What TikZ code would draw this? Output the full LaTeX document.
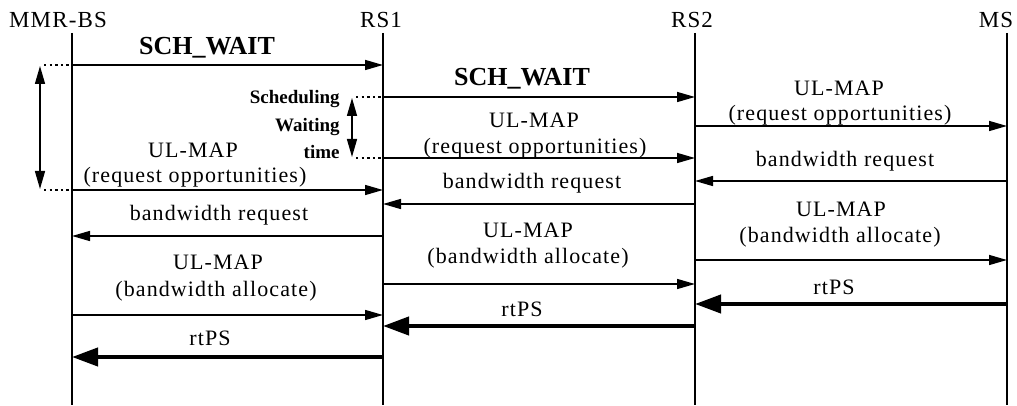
\documentclass[tikz,border=0pt]{standalone}
\usepackage{fontspec}
\setmainfont{Liberation Serif}
\newfontfamily\spacedfont[LetterSpace=5]{Liberation Serif}
\usetikzlibrary{arrows.meta}
\begin{document}
\begin{tikzpicture}[x=0.5pt,y=-0.5pt,
  life/.style={line width=0.75pt},
  msg/.style={line width=0.75pt,-{Triangle[length=9pt,width=5pt]}},
  bigmsg/.style={line width=2pt,-{Triangle[length=13pt,width=9pt]}},
  span/.style={line width=0.75pt,{Triangle[length=9pt,width=5pt]}-{Triangle[length=9pt,width=5pt]}},
  dots/.style={line width=0.75pt,dash pattern=on 1.2pt off 1.6pt},
  head/.style={font=\spacedfont\fontsize{11.5}{13}\selectfont,inner sep=0pt},
  lbl/.style={font=\spacedfont\fontsize{11}{13}\selectfont,inner sep=0pt},
  blbl/.style={font=\bfseries\fontsize{13}{15}\selectfont,inner sep=0pt},
  slbl/.style={font=\bfseries\fontsize{9.5}{11}\selectfont,inner sep=0pt,anchor=east}]
\useasboundingbox (0,0) rectangle (1017,406);
% headers
\node[head] (hbs) at (58,20) {MMR-BS};
\node[head] (hrs1) at (381,20) {RS1};
\node[head] (hrs2) at (692,20) {RS2};
\node[head] (hms) at (996,20) {MS};
% lifelines
\coordinate (bsT) at (72,33);   \coordinate (bsB) at (72,405);
\coordinate (r1T) at (383,33);  \coordinate (r1B) at (383,405);
\coordinate (r2T) at (695,33);  \coordinate (r2B) at (695,405);
\coordinate (msT) at (1007,33); \coordinate (msB) at (1007,405);
\draw[life] (bsT) -- (bsB);
\draw[life] (r1T) -- (r1B);
\draw[life] (r2T) -- (r2B);
\draw[life] (msT) -- (msB);
% message 1: SCH_WAIT BS->RS1
\coordinate (m1a) at (72,65); \coordinate (m1b) at (383,65);
\draw[msg] (m1a) -- (m1b);
\node[blbl] (t1) at (207,48) {SCH\_WAIT};
% message 2: SCH_WAIT RS1->RS2
\coordinate (m2a) at (383,97); \coordinate (m2b) at (695,97);
\draw[msg] (m2a) -- (m2b);
\node[blbl] (t2) at (522,79) {SCH\_WAIT};
% message 3: UL-MAP RS2->MS
\coordinate (m3a) at (695,126); \coordinate (m3b) at (1007,126);
\draw[msg] (m3a) -- (m3b);
\node[lbl] (t3a) at (839,88) {UL-MAP};
\node[lbl] (t3b) at (840,115) {(request opportunities)};
% message 4: UL-MAP RS1->RS2
\coordinate (m4a) at (383,158); \coordinate (m4b) at (695,158);
\draw[msg] (m4a) -- (m4b);
\node[lbl] (t4a) at (534,120) {UL-MAP};
\node[lbl] (t4b) at (535,148) {(request opportunities)};
% message 5: bandwidth request MS->RS2
\coordinate (m5a) at (1007,181); \coordinate (m5b) at (695,181);
\draw[msg] (m5a) -- (m5b);
\node[lbl] (t5) at (845,161) {bandwidth request};
% message 6: UL-MAP BS->RS1
\coordinate (m6a) at (72,190); \coordinate (m6b) at (383,190);
\draw[msg] (m6a) -- (m6b);
\node[lbl] (t6a) at (193,150) {UL-MAP};
\node[lbl] (t6b) at (195,177) {(request opportunities)};
% message 7: bandwidth request RS2->RS1
\coordinate (m7a) at (695,204); \coordinate (m7b) at (383,204);
\draw[msg] (m7a) -- (m7b);
\node[lbl] (t7) at (532,183) {bandwidth request};
% message 8: bandwidth request RS1->BS
\coordinate (m8a) at (383,236); \coordinate (m8b) at (72,236);
\draw[msg] (m8a) -- (m8b);
\node[lbl] (t8) at (219,215) {bandwidth request};
% message 9: UL-MAP RS2->MS
\coordinate (m9a) at (695,260); \coordinate (m9b) at (1007,260);
\draw[msg] (m9a) -- (m9b);
\node[lbl] (t9a) at (841,209) {UL-MAP};
\node[lbl] (t9b) at (840,237) {(bandwidth allocate)};
% message 10: UL-MAP RS1->RS2
\coordinate (m10a) at (383,284); \coordinate (m10b) at (695,284);
\draw[msg] (m10a) -- (m10b);
\node[lbl] (t10a) at (528,230) {UL-MAP};
\node[lbl] (t10b) at (528,258) {(bandwidth allocate)};
% message 11: rtPS MS->RS2
\coordinate (m11a) at (1007,304); \coordinate (m11b) at (695,304);
\draw[bigmsg] (m11a) -- (m11b);
\node[lbl] (t11) at (834,287) {rtPS};
% message 12: UL-MAP BS->RS1
\coordinate (m12a) at (72,315); \coordinate (m12b) at (383,315);
\draw[msg] (m12a) -- (m12b);
\node[lbl] (t12a) at (218,262) {UL-MAP};
\node[lbl] (t12b) at (216,291) {(bandwidth allocate)};
% message 13: rtPS RS2->RS1
\coordinate (m13a) at (695,326); \coordinate (m13b) at (383,326);
\draw[bigmsg] (m13a) -- (m13b);
\node[lbl] (t13) at (522,309) {rtPS};
% message 14: rtPS RS1->BS
\coordinate (m14a) at (383,357); \coordinate (m14b) at (72,357);
\draw[bigmsg] (m14a) -- (m14b);
\node[lbl] (t14) at (210,338) {rtPS};
% left waiting span
\coordinate (d1a) at (44,65); \coordinate (d2a) at (44,190);
\draw[dots] (d1a) -- (m1a);
\draw[dots] (d2a) -- (m6a);
\coordinate (s1t) at (40,66); \coordinate (s1b) at (40,189);
\draw[span] (s1t) -- (s1b);
% middle waiting span
\coordinate (d3a) at (356,97); \coordinate (d4a) at (356,158);
\draw[dots] (d3a) -- (m2a);
\draw[dots] (d4a) -- (m4a);
\coordinate (s2t) at (352,98); \coordinate (s2b) at (352,157);
\draw[span] (s2t) -- (s2b);
\node[slbl] (w1) at (340,99) {Scheduling};
\node[slbl] (w2) at (340,127) {Waiting};
\node[slbl] (w3) at (340,152) {time};
\end{tikzpicture}
\end{document}
